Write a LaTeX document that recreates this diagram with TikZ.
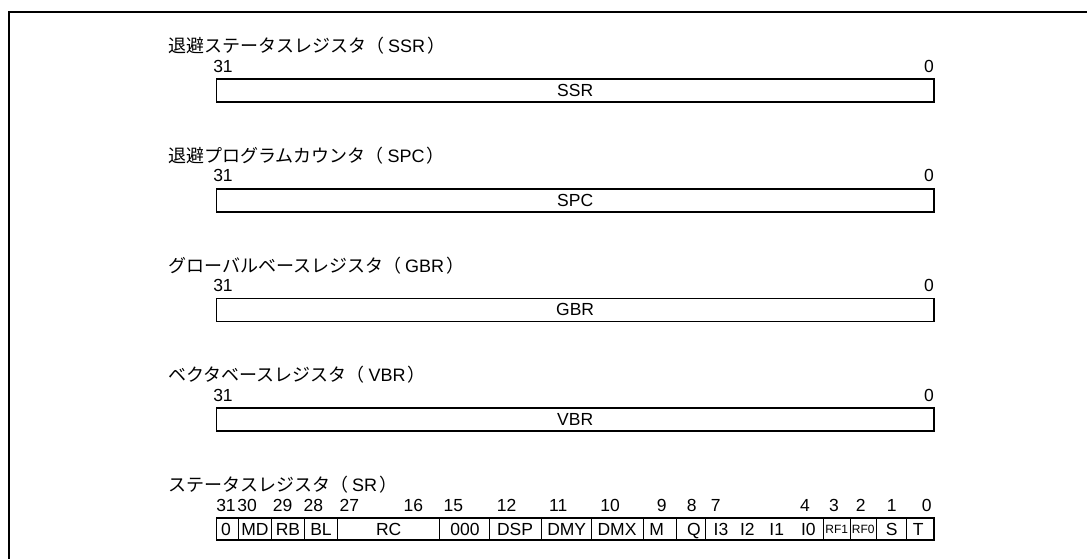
\documentclass[tikz,border=0pt]{standalone}
\usepackage{fontspec}
\setmainfont{Liberation Sans}
\newfontfamily\jp{Noto Sans CJK JP}
\newcommand{\regtitle}[2]{{\jp #1（}\hspace{4pt}#2\hspace{2pt}{\jp ）}}
\begin{document}
\begin{tikzpicture}[x=1pt,y=-1pt,
  title/.style={anchor=base west,inner sep=0pt,font=\fontsize{18}{20}\selectfont},
  bitnum/.style={anchor=base,inner sep=0pt,font=\fontsize{17.5}{20}\selectfont},
  regbox/.style={draw,line width=1.8pt,minimum width=717.5pt,minimum height=23pt,inner sep=0pt,anchor=north west,font=\fontsize{17.5}{20}\selectfont},
  field/.style={anchor=base,inner sep=0pt,font=\fontsize{17.5}{20}\selectfont},
  smallfield/.style={field,font=\fontsize{12}{14}\selectfont},
  divider/.style={line width=0.9pt},
  frameline/.style={line width=2pt}]
\useasboundingbox (0,0) rectangle (1087,558);
\draw[frameline] (9,560) -- (9,11.7) -- (1090,11.7);

% SSR
\node[title] (t1) at (168,52.5) {\regtitle{退避ステータスレジスタ}{SSR}};
\node[bitnum] (h1) at (223,72) {31};
\node[bitnum] (l1) at (929,72) {0};
\node[regbox] (r1) at (215.5,78) {SSR};

% SPC
\node[title] (t2) at (168,162.25) {\regtitle{退避プログラムカウンタ}{SPC}};
\node[bitnum] (h2) at (223,181.75) {31};
\node[bitnum] (l2) at (929,181.75) {0};
\node[regbox] (r2) at (215.5,187.75) {SPC};

% GBR
\node[title] (t3) at (168,272) {\regtitle{グローバルベースレジスタ}{GBR}};
\node[bitnum] (h3) at (223,291.5) {31};
\node[bitnum] (l3) at (929,291.5) {0};
\node[regbox] (r3) at (215.5,297.5) {GBR};

% VBR
\node[title] (t4) at (168,381.75) {\regtitle{ベクタベースレジスタ}{VBR}};
\node[bitnum] (h4) at (223,401.25) {31};
\node[bitnum] (l4) at (929,401.25) {0};
\node[regbox] (r4) at (215.5,407.25) {VBR};

% SR
\node[title] (t5) at (168,491.5) {\regtitle{ステータスレジスタ}{SR}};
\node[regbox,minimum height=22pt] (r5) at (215.5,517) {};
\foreach \x in {238.3,271.7,304.3,337.3,439.3,489,541,591.7,643.3,676.7,705,823.3,850,876.7,906.7}
  \draw[divider] (\x,517) -- (\x,539);

\foreach \lab/\x [count=\i] in {31/226,30/247,29/282.7,28/313.3,27/349.3,16/413.3,15/453.3,12/506.7,11/558.3,10/610,9/661.7,8/691.7,7/715.7,4/805,3/834,2/860.7,1/891.7,0/926.7}
  \node[bitnum] (b\i) at (\x,511) {\lab};

\foreach \lab/\x [count=\i] in {0/226,MD/255,RB/288,BL/321,RC/388.7,000/465,DSP/515,DMY/566.7,DMX/617,M/656.7,Q/694,I3/721,I2/747.3,I1/776.7,I0/808.3,S/891.7,T/918.3}
  \node[field] (f\i) at (\x,535) {\lab};
\node[smallfield] (rf1) at (836.7,533) {RF1};
\node[smallfield] (rf0) at (863.3,533) {RF0};
\end{tikzpicture}
\end{document}
